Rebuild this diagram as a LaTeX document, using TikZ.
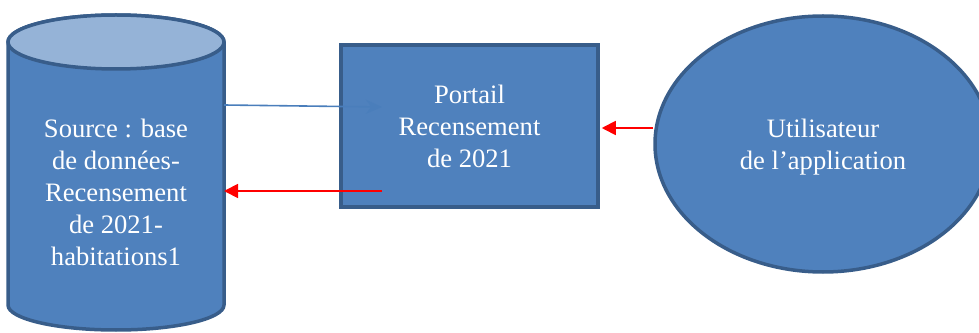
\documentclass[tikz,border=0pt]{standalone}
\usepackage{fontspec}
\setmainfont{Liberation Serif}
\usetikzlibrary{arrows.meta,shapes.geometric}
\definecolor{boxfill}{HTML}{4F81BD}
\definecolor{boxline}{HTML}{385D8A}
\definecolor{lidfill}{HTML}{95B3D7}
\definecolor{flowblue}{HTML}{4A7EBB}
\tikzset{
  shapeline/.style={draw=boxline, line width=3.5pt, fill=boxfill},
  boxtext/.style={text=white, align=center, font=\fontsize{26.6}{32}\selectfont},
  reqarrow/.style={draw=red, line width=1.8pt, -{Triangle[length=14pt,width=14pt]}},
  dataarrow/.style={draw=flowblue, line width=1.6pt, -{Stealth[length=16pt,width=14pt]}}
}
\begin{document}
\begin{tikzpicture}[x=1pt,y=1pt]
\useasboundingbox (0,0) rectangle (979,332);

% database cylinder
\path[shapeline] (8,290) -- (8,27)
  arc[start angle=180, end angle=360, x radius=108, y radius=25]
  -- (224,290)
  arc[start angle=0, end angle=180, x radius=108, y radius=27] -- cycle;
\path[shapeline, fill=lidfill] (116,290) ellipse[x radius=108, y radius=27];
\node[boxtext] (src) at (116,140) {Source : base\\de données-\\Recensement\\de 2021-\\habitations1};

% portal box
\node[shapeline, rectangle, minimum width=257pt, minimum height=162pt,
      boxtext] (portail) at (469.5,206) {Portail\\Recensement\\de 2021};

% user ellipse and its caption
\node[shapeline, ellipse, minimum width=336pt, minimum height=256pt,
      inner sep=0pt] (user) at (823,188) {};
\node[boxtext] (usertext) at (823,185) {Utilisateur\\de l’application};

% arrow end points
\coordinate (srcout) at (224,227);
\coordinate (portin) at (382,225);
\coordinate (portout) at (382,141);
\coordinate (srcin) at (224,141);
\coordinate (userout) at (653,204);

% flows
\draw[dataarrow] (srcout) -- (portin);
\draw[reqarrow] (portout) -- (srcin);
\draw[reqarrow] (userout) -- ([shift={(2pt,-2pt)}]portail.east);
\end{tikzpicture}
\end{document}
